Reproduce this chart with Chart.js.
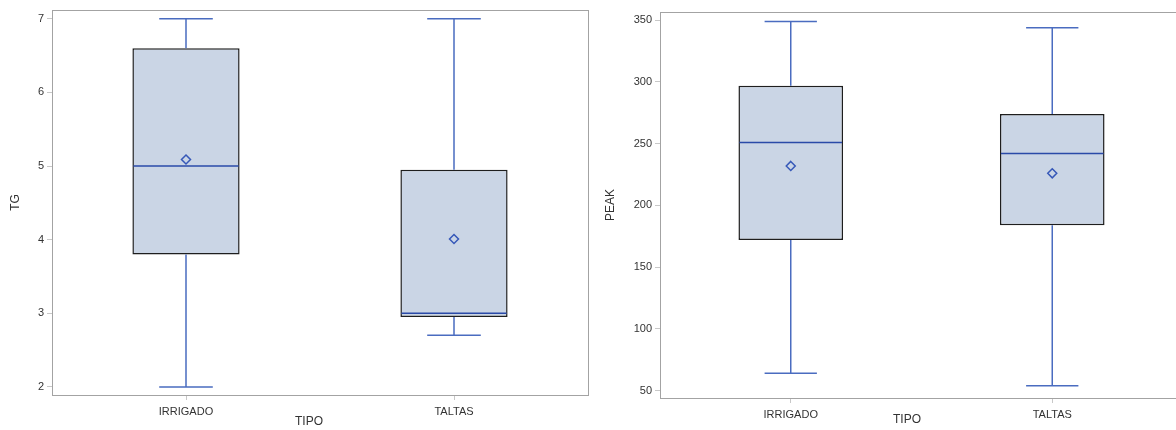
<!DOCTYPE html>
<html>
<head>
<meta charset="utf-8">
<script src="https://cdn.jsdelivr.net/npm/chart.js@4.4.1/dist/chart.umd.min.js"></script>
<style>
  html, body { margin: 0; padding: 0; background: #fff; overflow: hidden; }
  .panel { position: absolute; top: 0; height: 430px; }
  #tg-panel { left: 0; width: 590px; }
  #peak-panel { left: 590px; width: 600px; }
</style>
</head>
<body>
<div class="panel" id="tg-panel"><canvas id="tg-chart"></canvas></div>
<div class="panel" id="peak-panel"><canvas id="peak-chart"></canvas></div>
<script>
const categories = ["IRRIGADO", "TALTAS"];

// TG summary per group
const tgMin = [2.0, 2.7];
const tgQ1 = [3.8, 2.95];
const tgMedian = [5.0, 3.0];
const tgQ3 = [6.6, 4.95];
const tgMax = [7.0, 7.0];
const tgMean = [5.09, 4.01];
const tgTicks = [2, 3, 4, 5, 6, 7];

// PEAK summary per group
const peakMin = [64, 54];
const peakQ1 = [172, 184];
const peakMedian = [251, 242];
const peakQ3 = [297, 274];
const peakMax = [349, 344];
const peakMean = [232, 226];
const peakTicks = [50, 100, 150, 200, 250, 300, 350];

const FONT = "'Liberation Sans', Arial, sans-serif";
const TEXT = "#333333";
const FRAME = "#a3a3a3";
const WHISKER = "#4a6cc0";
const MEDIAN = "#2a4aa8";

// whiskers, median line, mean diamond and frame around the plot area
const boxPlugin = {
  id: "boxExtras",
  afterDatasetsDraw(chart, args, opts) {
    const ctx = chart.ctx;
    const x = chart.scales.x, y = chart.scales.y;
    const meta = chart.getDatasetMeta(0);
    ctx.save();
    opts.median.forEach((med, i) => {
      const cx = x.getPixelForValue(i);
      const bw = meta.data[i].width;
      const cap = bw / 2;
      const yQ1 = y.getPixelForValue(opts.q1[i]);
      const yQ3 = y.getPixelForValue(opts.q3[i]);
      const yMin = y.getPixelForValue(opts.min[i]);
      const yMax = y.getPixelForValue(opts.max[i]);
      ctx.strokeStyle = WHISKER;
      ctx.lineWidth = 1.5;
      ctx.beginPath();
      ctx.moveTo(cx, yQ1); ctx.lineTo(cx, yMin);
      ctx.moveTo(cx - cap / 2, yMin); ctx.lineTo(cx + cap / 2, yMin);
      ctx.moveTo(cx, yQ3); ctx.lineTo(cx, yMax);
      ctx.moveTo(cx - cap / 2, yMax); ctx.lineTo(cx + cap / 2, yMax);
      ctx.stroke();

      const yMed = y.getPixelForValue(med);
      ctx.strokeStyle = MEDIAN;
      ctx.beginPath();
      ctx.moveTo(cx - bw / 2 + 1, yMed); ctx.lineTo(cx + bw / 2 - 1, yMed);
      ctx.stroke();

      const yMean = y.getPixelForValue(opts.mean[i]);
      const r = 4.5;
      ctx.strokeStyle = "#3658b8";
      ctx.beginPath();
      ctx.moveTo(cx, yMean - r); ctx.lineTo(cx + r, yMean);
      ctx.lineTo(cx, yMean + r); ctx.lineTo(cx - r, yMean);
      ctx.closePath();
      ctx.stroke();
    });
    ctx.restore();
  },
  afterDraw(chart, args, opts) {
    const ctx = chart.ctx;
    const a = chart.chartArea;
    ctx.save();
    ctx.strokeStyle = FRAME;
    ctx.lineWidth = 1;
    ctx.strokeRect(a.left + 0.5, a.top + 0.5, a.right - a.left, a.bottom - a.top);
    ctx.fillStyle = TEXT;
    ctx.font = "12px " + FONT;
    ctx.textAlign = "center";
    ctx.textBaseline = "middle";
    ctx.fillText(opts.xTitle, opts.xTitleX, opts.xTitleY);
    ctx.restore();
  }
};

function makeBoxChart(id, cfg) {
  return new Chart(document.getElementById(id), {
    type: "bar",
    data: {
      labels: categories,
      datasets: [{
        data: cfg.q1.map((v, i) => [v, cfg.q3[i]]),
        backgroundColor: "#cad5e5",
        borderColor: "#1e1e1e",
        borderWidth: 1.5,
        borderSkipped: false,
        barPercentage: 0.4,
        categoryPercentage: 1.0
      }]
    },
    plugins: [boxPlugin],
    options: {
      responsive: true,
      maintainAspectRatio: false,
      animation: false,
      layout: { padding: cfg.padding },
      plugins: {
        legend: { display: false },
        tooltip: { enabled: false },
        boxExtras: {
          min: cfg.min, q1: cfg.q1, median: cfg.median, q3: cfg.q3,
          max: cfg.max, mean: cfg.mean,
          xTitle: "TIPO", xTitleX: cfg.xTitleX, xTitleY: cfg.xTitleY
        }
      },
      scales: {
        x: {
          offset: true,
          border: { display: false },
          grid: { offset: false, drawOnChartArea: false, drawTicks: true, tickLength: 5, color: "#c8c8c8" },
          ticks: { color: TEXT, font: { family: FONT, size: 11 }, padding: 5, maxRotation: 0 },
          afterFit: (s) => { s.height = cfg.xHeight; }
        },
        y: {
          min: cfg.yMin,
          max: cfg.yMax,
          border: { display: false },
          grid: { drawOnChartArea: false, drawTicks: true, tickLength: 5, color: "#c8c8c8" },
          ticks: { color: TEXT, font: { family: FONT, size: 11 }, padding: 3 },
          afterBuildTicks: (s) => { s.ticks = cfg.ticks.map(v => ({ value: v })); },
          afterFit: (s) => { s.width = cfg.yWidth; },
          title: {
            display: true,
            text: cfg.yTitle,
            color: TEXT,
            font: { family: FONT, size: 12 },
            padding: { top: cfg.yTitlePad, bottom: 0 }
          }
        }
      }
    }
  });
}

makeBoxChart("tg-chart", {
  min: tgMin, q1: tgQ1, median: tgMedian, q3: tgQ3, max: tgMax, mean: tgMean,
  ticks: tgTicks, yMin: 1.89, yMax: 7.12, yTitle: "TG", yTitlePad: 8,
  padding: { top: 10, right: 2, left: 0, bottom: 0 },
  yWidth: 52, xHeight: 35, xTitleX: 309, xTitleY: 422
});

makeBoxChart("peak-chart", {
  min: peakMin, q1: peakQ1, median: peakMedian, q3: peakQ3, max: peakMax, mean: peakMean,
  ticks: peakTicks, yMin: 44, yMax: 356.7, yTitle: "PEAK", yTitlePad: 13,
  padding: { top: 12, right: 7, left: 0, bottom: 0 },
  yWidth: 70, xHeight: 32, xTitleX: 317, xTitleY: 420
});
</script>
</body>
</html>
